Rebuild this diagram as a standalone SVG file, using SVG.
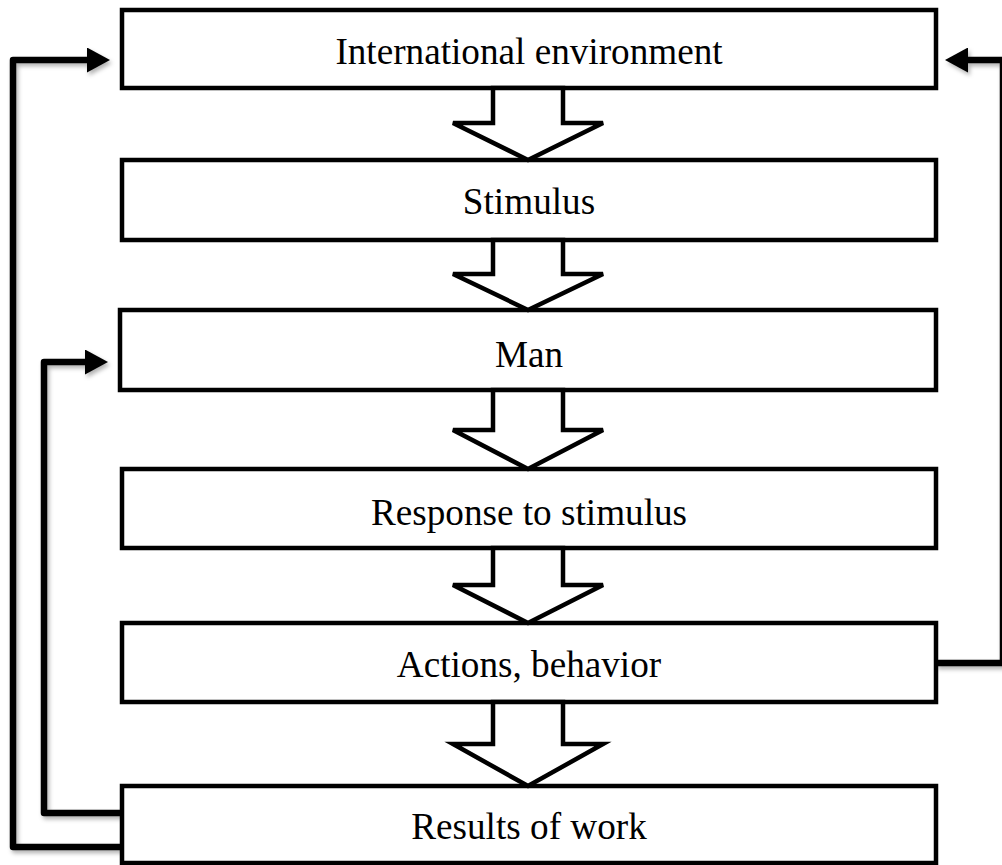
<svg xmlns="http://www.w3.org/2000/svg" width="1002" height="865" viewBox="0 0 1002 865">
<style>
.box{fill:#fff;stroke:#000;stroke-width:4.5}
.lbl{font-family:"Liberation Serif","Times New Roman",serif;font-size:37.2px;fill:#000;text-anchor:middle}
.blk{fill:#fff;stroke:#000;stroke-width:4.5;stroke-linejoin:miter}
.fb{fill:none;stroke:#000;stroke-width:6.5;stroke-linejoin:round}
</style>
<defs>
<filter id="sh" x="-10%" y="-10%" width="130%" height="130%">
<feDropShadow dx="2" dy="3" stdDeviation="2" flood-color="#000" flood-opacity="0.3"/>
</filter>
<marker id="ah" markerWidth="23" markerHeight="25" refX="0" refY="12.5" orient="auto" markerUnits="userSpaceOnUse">
<path d="M0,0 L23,12.5 L0,25 Z" fill="#000"/>
</marker>
</defs>
<g id="connectors" filter="url(#sh)">
<path class="fb" d="M122,847 L13,847 L13,60 L87,60" marker-end="url(#ah)"/>
<path class="fb" d="M122,813 L44,813 L44,362 L85,362" marker-end="url(#ah)"/>
<path class="fb" d="M936,663 L1003,663 L1003,60 L968,60" marker-end="url(#ah)"/>
</g>
<g id="n1"><rect class="box" x="122" y="10" width="814" height="78"/><text class="lbl" x="529" y="64">International environment</text></g>
<g id="n2"><rect class="box" x="122" y="160" width="814" height="80"/><text class="lbl" x="529" y="214">Stimulus</text></g>
<g id="n3"><rect class="box" x="120" y="310" width="816" height="80"/><text class="lbl" x="529" y="367">Man</text></g>
<g id="n4"><rect class="box" x="122" y="469" width="814" height="79"/><text class="lbl" x="529" y="525">Response to stimulus</text></g>
<g id="n5"><rect class="box" x="122" y="623" width="814" height="79"/><text class="lbl" x="529" y="677">Actions, behavior</text></g>
<g id="n6"><rect class="box" x="122" y="786" width="814" height="77"/><text class="lbl" x="529" y="839">Results of work</text></g>
<g id="block-arrows">
<path class="blk" d="M493,88 L563,88 L563,123 L603,123 L528,160 L453,123 L493,123 Z"/>
<path class="blk" d="M493,240 L563,240 L563,274 L603,274 L528,310 L453,274 L493,274 Z"/>
<path class="blk" d="M493,390 L563,390 L563,430 L603,430 L528,469 L453,430 L493,430 Z"/>
<path class="blk" d="M493,548 L563,548 L563,585 L603,585 L528,623 L453,585 L493,585 Z"/>
<path class="blk" d="M493,702 L563,702 L563,744 L603,744 L528,786 L453,744 L493,744 Z"/>
</g>
</svg>
